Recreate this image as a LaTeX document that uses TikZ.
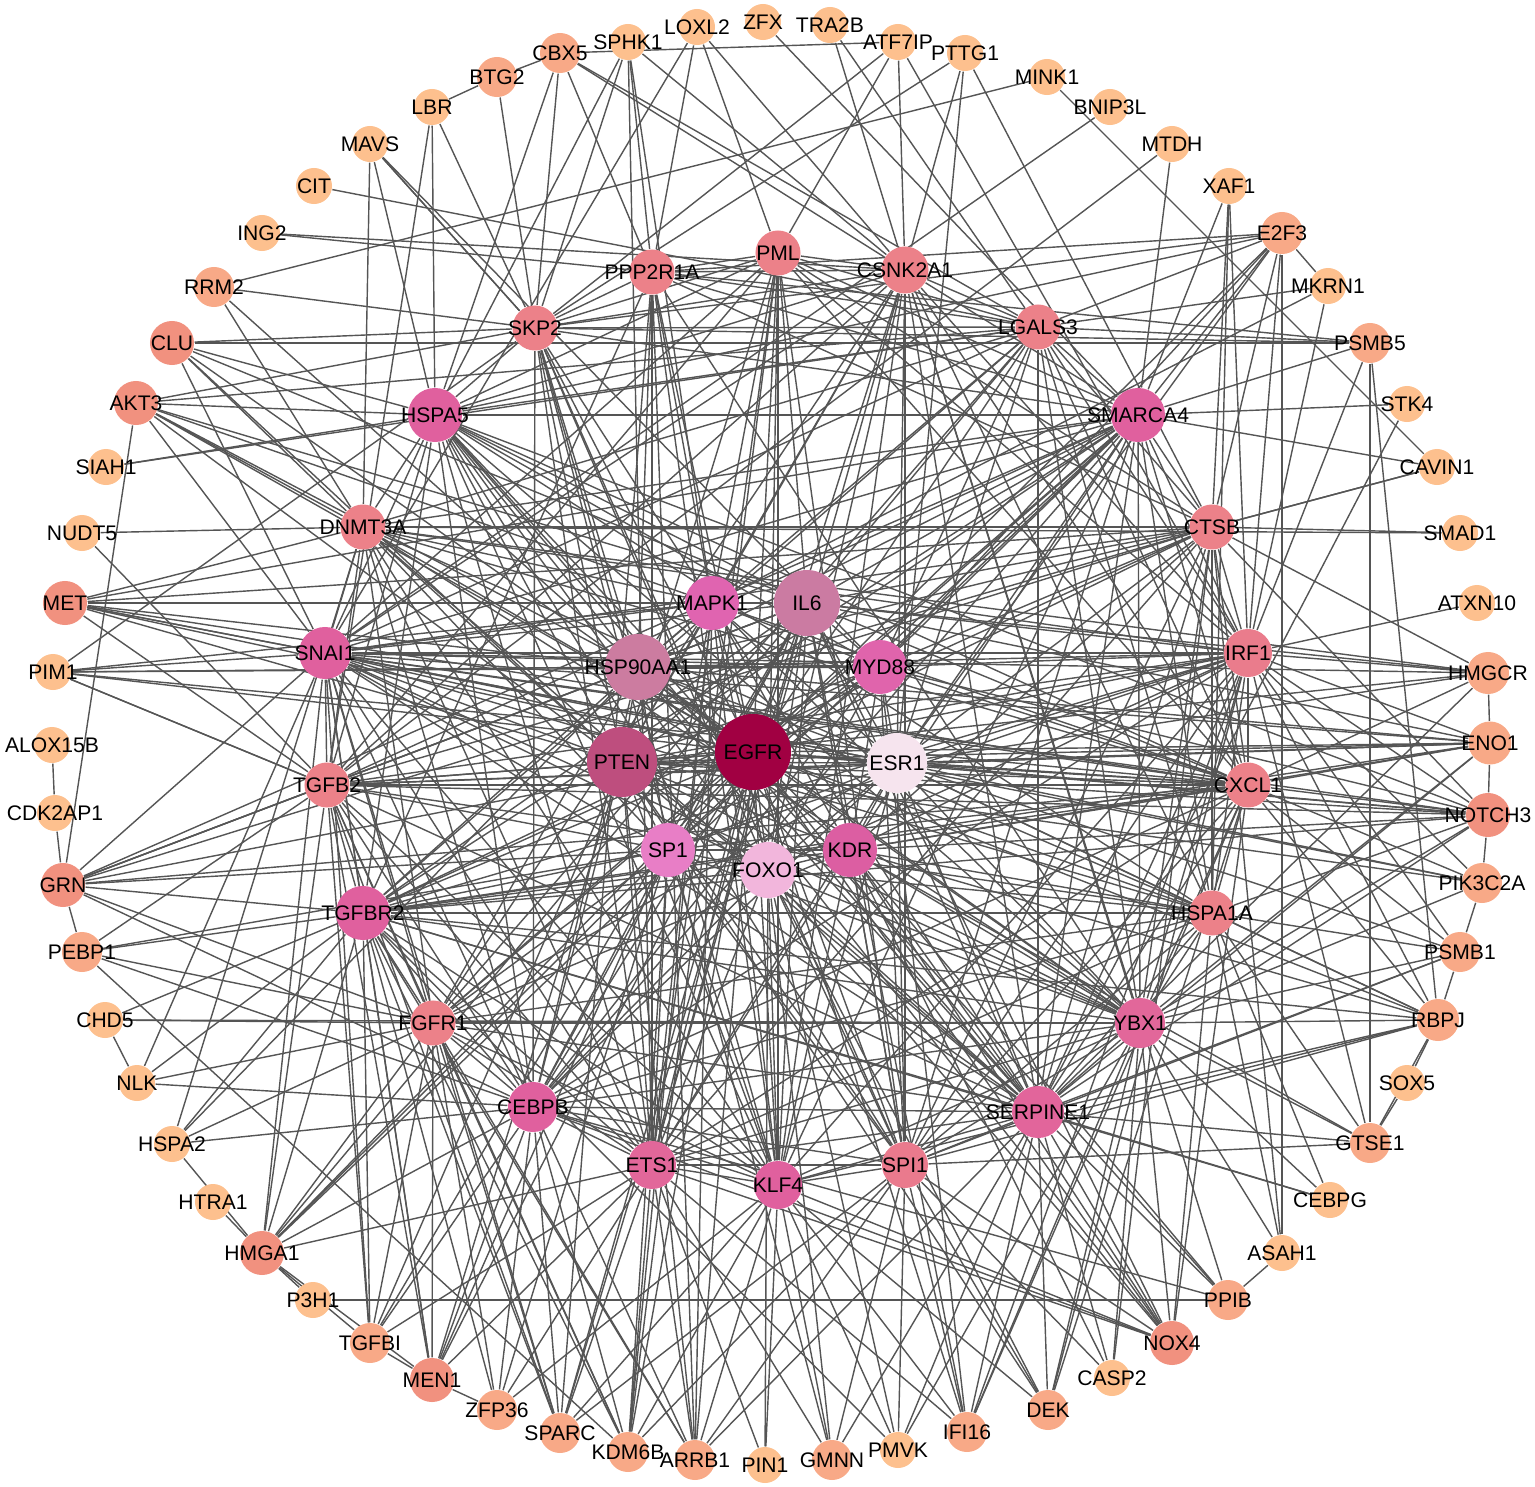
\documentclass[tikz,border=0pt]{standalone}
\usepackage{fontspec}
\setmainfont{Liberation Sans}
\usepackage{xcolor}
\usetikzlibrary{backgrounds}
\definecolor{tonepeach}{HTML}{FDC08E}
\definecolor{tonelight}{HTML}{F8A987}
\definecolor{tonesalmon}{HTML}{F1917F}
\definecolor{tonerose}{HTML}{EC8189}
\definecolor{tonepink}{HTML}{E0609E}
\definecolor{edgegray}{HTML}{555555}
\tikzset{
  gene/.style={
    circle,
    inner sep=0pt,
    text=black,
    font=\fontsize{6}{7}\selectfont,
    execute at begin node={\hbox to 0pt\bgroup\hss},
    execute at end node={\hss\egroup}
  },
  low/.style={gene, fill=tonepeach, minimum size=0.36cm},
  lowmid/.style={gene, fill=tonelight, minimum size=0.40cm},
  mid/.style={gene, fill=tonesalmon, minimum size=0.44cm},
  ring/.style={gene, fill=tonerose, minimum size=0.45cm},
  hub/.style={gene, fill=tonepink, minimum size=0.52cm},
  link/.style={draw=edgegray, line width=0.4pt}
}
\begin{document}
\begin{tikzpicture}[x=0.01cm, y=-0.01cm]
  \useasboundingbox (0,0) rectangle (1535,1487);

  \node[lowmid] (BTG2) at (497,77) {BTG2};
  \node[low] (LBR) at (432,107) {LBR};
  \node[low] (MAVS) at (370,144) {MAVS};
  \node[low] (CIT) at (314,186) {CIT};
  \node[low] (ING2) at (262,233) {ING2};
  \node[lowmid] (RRM2) at (214,287) {RRM2};
  \node[mid] (CLU) at (172,343) {CLU};
  \node[mid] (AKT3) at (136,403) {AKT3};
  \node[low] (SIAH1) at (106,467) {SIAH1};
  \node[low] (NUDT5) at (82,533) {NUDT5};
  \node[mid] (MET) at (65,603) {MET};
  \node[low] (PIM1) at (53,672) {PIM1};
  \node[low] (ALOX15B) at (52,745) {ALOX15B};
  \node[low] (CDK2AP1) at (55,813) {CDK2AP1};
  \node[mid] (GRN) at (63,885) {GRN};
  \node[lowmid] (PEBP1) at (82,952) {PEBP1};
  \node[low] (CHD5) at (105,1020) {CHD5};
  \node[low] (NLK) at (137,1083) {NLK};
  \node[low] (HSPA2) at (172,1144) {HSPA2};
  \node[low] (HTRA1) at (213,1202) {HTRA1};
  \node[mid] (HMGA1) at (262,1253) {HMGA1};
  \node[low] (P3H1) at (313,1300) {P3H1};
  \node[lowmid] (TGFBI) at (370,1343) {TGFBI};
  \node[mid] (MEN1) at (432,1380) {MEN1};
  \node[lowmid] (ZFP36) at (497,1410) {ZFP36};
  \node[lowmid] (SPARC) at (560,1433) {SPARC};
  \node[lowmid] (KDM6B) at (628,1452) {KDM6B};
  \node[lowmid] (ARRB1) at (695,1460) {ARRB1};
  \node[low] (PIN1) at (765,1465) {PIN1};
  \node[lowmid] (GMNN) at (832,1460) {GMNN};
  \node[low] (PMVK) at (898,1450) {PMVK};
  \node[lowmid] (IFI16) at (967,1432) {IFI16};
  \node[lowmid] (DEK) at (1048,1410) {DEK};
  \node[low] (CASP2) at (1112,1378) {CASP2};
  \node[mid] (NOX4) at (1172,1343) {NOX4};
  \node[lowmid] (PPIB) at (1228,1300) {PPIB};
  \node[low] (ASAH1) at (1282,1253) {ASAH1};
  \node[low] (CEBPG) at (1330,1200) {CEBPG};
  \node[lowmid] (GTSE1) at (1370,1143) {GTSE1};
  \node[low] (SOX5) at (1407,1083) {SOX5};
  \node[lowmid, minimum size=0.42cm] (RBPJ) at (1438,1020) {RBPJ};
  \node[lowmid] (PSMB1) at (1460,952) {PSMB1};
  \node[lowmid] (PIK3C2A) at (1482,883) {PIK3C2A};
  \node[mid] (NOTCH3) at (1488,815) {NOTCH3};
  \node[lowmid, minimum size=0.43cm] (ENO1) at (1490,743) {ENO1};
  \node[lowmid, minimum size=0.42cm] (HMGCR) at (1488,673) {HMGCR};
  \node[low] (ATXN10) at (1477,603) {ATXN10};
  \node[low] (SMAD1) at (1460,533) {SMAD1};
  \node[low] (CAVIN1) at (1437,467) {CAVIN1};
  \node[low] (STK4) at (1407,404) {STK4};
  \node[lowmid] (PSMB5) at (1370,343) {PSMB5};
  \node[low] (MKRN1) at (1328,286) {MKRN1};
  \node[lowmid, minimum size=0.42cm] (E2F3) at (1282,233) {E2F3};
  \node[low] (XAF1) at (1229,186) {XAF1};
  \node[low] (MTDH) at (1172,144) {MTDH};
  \node[low] (BNIP3L) at (1110,107) {BNIP3L};
  \node[low] (MINK1) at (1047,77) {MINK1};
  \node[low] (PTTG1) at (965,53) {PTTG1};
  \node[low] (ATF7IP) at (898,42) {ATF7IP};
  \node[low] (TRA2B) at (830,25) {TRA2B};
  \node[low] (ZFX) at (763,22) {ZFX};
  \node[low] (LOXL2) at (697,27) {LOXL2};
  \node[low] (SPHK1) at (628,42) {SPHK1};
  \node[lowmid] (CBX5) at (560,53) {CBX5};

  \node[ring] (PML) at (778,253) {PML};
  \node[ring, minimum size=0.47cm] (CSNK2A1) at (905,270) {CSNK2A1};
  \node[ring] (PPP2R1A) at (652,272) {PPP2R1A};
  \node[ring] (SKP2) at (535,328) {SKP2};
  \node[ring] (LGALS3) at (1038,327) {LGALS3};
  \node[hub, minimum size=0.54cm] (HSPA5) at (435,415) {HSPA5};
  \node[hub, minimum size=0.54cm] (SMARCA4) at (1138,415) {SMARCA4};
  \node[ring] (DNMT3A) at (363,527) {DNMT3A};
  \node[ring] (CTSB) at (1212,527) {CTSB};
  \node[hub] (SNAI1) at (325,653) {SNAI1};
  \node[ring, fill=tonerose!85!tonepink, minimum size=0.48cm] (IRF1) at (1248,653) {IRF1};
  \node[ring] (TGFB2) at (327,785) {TGFB2};
  \node[ring] (CXCL1) at (1248,785) {CXCL1};
  \node[hub, minimum size=0.54cm] (TGFBR2) at (363,913) {TGFBR2};
  \node[ring] (HSPA1A) at (1212,913) {HSPA1A};
  \node[ring] (FGFR1) at (433,1023) {FGFR1};
  \node[hub, fill=tonepink!80!tonerose, minimum size=0.50cm] (YBX1) at (1140,1023) {YBX1};
  \node[hub, minimum size=0.50cm] (CEBPB) at (533,1107) {CEBPB};
  \node[hub, fill=tonepink!85!tonerose] (SERPINE1) at (1038,1112) {SERPINE1};
  \node[hub, fill=tonepink!80!tonerose, minimum size=0.48cm] (ETS1) at (652,1165) {ETS1};
  \node[hub, minimum size=0.48cm] (KLF4) at (778,1185) {KLF4};
  \node[ring, fill=tonerose!80!tonepink, minimum size=0.46cm] (SPI1) at (905,1165) {SPI1};

  \node[gene, fill={rgb,255:red,224;green,100;blue,176}, minimum size=0.54cm] (MAPK1) at (712,603) {MAPK1};
  \node[gene, fill={rgb,255:red,203;green,123;blue,162}, minimum size=0.66cm] (IL6) at (807,603) {IL6};
  \node[gene, fill={rgb,255:red,204;green,124;blue,160}, minimum size=0.66cm] (HSP90AA1) at (638,667) {HSP90AA1};
  \node[gene, fill={rgb,255:red,224;green,100;blue,172}, minimum size=0.54cm] (MYD88) at (880,667) {MYD88};
  \node[gene, fill={rgb,255:red,190;green,78;blue,126}, minimum size=0.70cm] (PTEN) at (622,762) {PTEN};
  \node[gene, fill={rgb,255:red,161;green,0;blue,66}, minimum size=0.76cm] (EGFR) at (753,752) {EGFR};
  \node[gene, fill={rgb,255:red,246;green,228;blue,238}, minimum size=0.60cm] (ESR1) at (897,763) {ESR1};
  \node[gene, fill={rgb,255:red,232;green,126;blue,198}, minimum size=0.54cm] (SP1) at (668,850) {SP1};
  \node[gene, fill={rgb,255:red,242;green,182;blue,220}, minimum size=0.56cm] (FOXO1) at (768,870) {FOXO1};
  \node[gene, fill={rgb,255:red,220;green,94;blue,162}, minimum size=0.54cm] (KDR) at (850,850) {KDR};

  \begin{pgfonlayer}{background}
  \draw[link] (EGFR) edge (PTEN) edge (HSP90AA1) edge (IL6) edge (MAPK1) edge (MYD88) edge (ESR1) edge (SP1) edge (FOXO1) edge (KDR)
    edge (SNAI1) edge (TGFBR2) edge (TGFB2) edge (MET) edge (AKT3) edge (CLU) edge (SKP2) edge (PML) edge (CSNK2A1) edge (LGALS3)
    edge (SMARCA4) edge (CTSB) edge (IRF1) edge (CXCL1) edge (HSPA1A) edge (YBX1) edge (SERPINE1) edge (SPI1) edge (KLF4) edge (ETS1)
    edge (CEBPB) edge (FGFR1) edge (DNMT3A) edge (HSPA5) edge (PPP2R1A) edge (E2F3) edge (NOTCH3) edge (ENO1) edge (GRN) edge (HMGA1)
    edge (NOX4) edge (PIM1) edge (RBPJ) edge (SPARC) edge (ARRB1) edge (KDM6B) edge (MEN1) edge (IFI16);
  \draw[link] (PTEN) edge (HSP90AA1) edge (IL6) edge (MAPK1) edge (SP1) edge (FOXO1) edge (KDR) edge (ESR1) edge (MYD88) edge (SNAI1)
    edge (SKP2) edge (PML) edge (CSNK2A1) edge (HSPA5) edge (SMARCA4) edge (DNMT3A) edge (TGFB2) edge (CXCL1) edge (IRF1) edge (YBX1)
    edge (ETS1) edge (KLF4) edge (CEBPB) edge (SERPINE1) edge (AKT3) edge (MET) edge (CLU) edge (NOTCH3) edge (HMGCR) edge (ENO1)
    edge (SPI1) edge (PIK3C2A) edge (MEN1) edge (ARRB1) edge (TGFBI) edge (DEK);
  \draw[link] (HSP90AA1) edge (IL6) edge (MAPK1) edge (MYD88) edge (ESR1) edge (KDR) edge (SP1) edge (HSPA5) edge (SMARCA4) edge (SKP2)
    edge (CSNK2A1) edge (PPP2R1A) edge (LGALS3) edge (CTSB) edge (IRF1) edge (TGFBR2) edge (YBX1) edge (HSPA1A) edge (PIM1) edge (MET)
    edge (AKT3) edge (RRM2) edge (ENO1) edge (HSPA2) edge (NOX4) edge (CEBPB) edge (SERPINE1) edge (FGFR1) edge (GRN);
  \draw[link] (IL6) edge (MAPK1) edge (MYD88) edge (ESR1) edge (SP1) edge (FOXO1) edge (KDR) edge (SNAI1) edge (TGFB2) edge (TGFBR2)
    edge (CXCL1) edge (IRF1) edge (SERPINE1) edge (CEBPB) edge (ETS1) edge (KLF4) edge (SPI1) edge (HSPA5) edge (PML) edge (SMARCA4)
    edge (CTSB) edge (LGALS3) edge (MET) edge (CLU) edge (AKT3) edge (GRN) edge (NOX4) edge (SPARC) edge (IFI16) edge (HMGA1)
    edge (TGFBI) edge (HMGCR) edge (ENO1);
  \draw[link] (MAPK1) edge (MYD88) edge (ESR1) edge (SP1) edge (FOXO1) edge (KDR) edge (SNAI1) edge (SKP2) edge (PML) edge (PPP2R1A)
    edge (CSNK2A1) edge (ETS1) edge (KLF4) edge (SERPINE1) edge (YBX1) edge (DNMT3A) edge (CXCL1) edge (MET) edge (PIM1) edge (AKT3)
    edge (FGFR1) edge (ARRB1) edge (KDM6B) edge (MKRN1) edge (SPHK1);
  \draw[link] (MYD88) edge (ESR1) edge (KDR) edge (FOXO1) edge (SP1) edge (IRF1) edge (CXCL1) edge (SPI1) edge (CEBPB) edge (TGFBR2)
    edge (SNAI1) edge (HSPA5) edge (SMARCA4) edge (LGALS3) edge (CTSB) edge (PIM1) edge (NOTCH3) edge (IFI16) edge (MAVS) edge (E2F3);
  \draw[link] (ESR1) edge (SP1) edge (FOXO1) edge (KDR) edge (SMARCA4) edge (CTSB) edge (IRF1) edge (CXCL1) edge (HSPA1A) edge (YBX1)
    edge (SERPINE1) edge (KLF4) edge (SPI1) edge (ETS1) edge (CEBPB) edge (DNMT3A) edge (SNAI1) edge (TGFB2) edge (FGFR1) edge (MET)
    edge (HMGCR) edge (ENO1) edge (NOTCH3) edge (PIK3C2A) edge (PSMB1) edge (RBPJ) edge (E2F3) edge (PTTG1) edge (LGALS3) edge (CSNK2A1);
  \draw[link] (SP1) edge (FOXO1) edge (KDR) edge (KLF4) edge (ETS1) edge (CEBPB) edge (TGFBR2) edge (SNAI1) edge (TGFB2) edge (FGFR1)
    edge (SERPINE1) edge (YBX1) edge (DNMT3A) edge (SMARCA4) edge (IRF1) edge (SPI1) edge (CXCL1) edge (MEN1) edge (ZFP36) edge (GRN)
    edge (PEBP1) edge (HMGA1) edge (KDM6B);
  \draw[link] (FOXO1) edge (KDR) edge (KLF4) edge (SPI1) edge (ETS1) edge (CEBPB) edge (YBX1) edge (SERPINE1) edge (SKP2) edge (CSNK2A1)
    edge (PML) edge (TGFBR2) edge (SNAI1) edge (IRF1) edge (HSPA5) edge (HSPA1A) edge (PMVK) edge (GMNN) edge (DEK) edge (PIN1) edge (NOX4);
  \draw[link] (KDR) edge (SERPINE1) edge (YBX1) edge (SPI1) edge (KLF4) edge (ETS1) edge (CXCL1) edge (HSPA1A) edge (IRF1) edge (CTSB)
    edge (SMARCA4) edge (TGFBR2) edge (FGFR1) edge (NOTCH3) edge (ENO1) edge (RBPJ) edge (NOX4) edge (CASP2) edge (PPIB) edge (GTSE1);

  \draw[link] (SKP2) edge (PML) edge (PPP2R1A) edge (CSNK2A1) edge (LGALS3) edge (HSPA5) edge (SMARCA4) edge (E2F3) edge (RRM2)
    edge (CLU) edge (AKT3) edge (CBX5) edge (SPHK1) edge (BTG2) edge (LBR) edge (MAVS) edge (PSMB5) edge (PIM1) edge (CEBPB)
    edge (KLF4) edge (ETS1) edge (SPI1) edge (PTTG1) edge (GMNN);
  \draw[link] (PML) edge (PPP2R1A) edge (CSNK2A1) edge (LGALS3) edge (SMARCA4) edge (ATF7IP) edge (IRF1) edge (CTSB) edge (SPI1)
    edge (KLF4) edge (ETS1) edge (CXCL1) edge (TGFB2) edge (SNAI1) edge (HSPA5) edge (KDM6B) edge (LOXL2);
  \draw[link] (PPP2R1A) edge (CSNK2A1) edge (LGALS3) edge (SPHK1) edge (CBX5) edge (LOXL2) edge (SMARCA4) edge (E2F3) edge (KLF4)
    edge (ETS1) edge (ARRB1) edge (SPARC) edge (YBX1) edge (CTSB) edge (PSMB5) edge (TGFBR2) edge (ING2);
  \draw[link] (CSNK2A1) edge (LGALS3) edge (SMARCA4) edge (HSPA5) edge (TRA2B) edge (ATF7IP) edge (PTTG1) edge (LOXL2) edge (SPHK1)
    edge (CBX5) edge (IRF1) edge (CXCL1) edge (ETS1) edge (KLF4) edge (SERPINE1) edge (YBX1) edge (SPI1) edge (TGFB2) edge (SNAI1)
    edge (HSPA1A) edge (ING2) edge (PPIB);
  \draw[link] (LGALS3) edge (SMARCA4) edge (E2F3) edge (MKRN1) edge (PSMB5) edge (CBX5) edge (HSPA5) edge (CTSB) edge (IRF1)
    edge (CXCL1) edge (HSPA1A) edge (SERPINE1) edge (YBX1) edge (FGFR1) edge (TGFBR2) edge (SNAI1) edge (DNMT3A) edge (AKT3)
    edge (CIT) edge (TRA2B) edge (SIAH1);
  \draw[link] (HSPA5) edge (SMARCA4) edge (DNMT3A) edge (SNAI1) edge (TGFB2) edge (TGFBR2) edge (CEBPB) edge (ETS1) edge (KLF4)
    edge (LBR) edge (MAVS) edge (CBX5) edge (AKT3) edge (CLU) edge (SIAH1) edge (HSPA1A) edge (CXCL1) edge (SPI1) edge (SERPINE1)
    edge (YBX1) edge (E2F3) edge (NOTCH3) edge (SPHK1) edge (PPIB);
  \draw[link] (SMARCA4) edge (CTSB) edge (IRF1) edge (CXCL1) edge (HSPA1A) edge (YBX1) edge (SERPINE1) edge (E2F3) edge (XAF1)
    edge (MTDH) edge (PSMB5) edge (STK4) edge (CAVIN1) edge (SNAI1) edge (DNMT3A) edge (TGFB2) edge (TGFBR2) edge (CEBPB)
    edge (FGFR1) edge (SPI1) edge (KLF4) edge (MET) edge (GRN) edge (HMGA1) edge (ZFX);
  \draw[link] (DNMT3A) edge (SNAI1) edge (TGFB2) edge (MET) edge (NUDT5) edge (CLU) edge (AKT3) edge (RRM2) edge (MAVS) edge (CTSB)
    edge (IRF1) edge (CXCL1) edge (CEBPB) edge (ETS1) edge (KLF4) edge (FGFR1) edge (SERPINE1) edge (YBX1) edge (HMGCR)
    edge (SMAD1) edge (HSPA2);
  \draw[link] (CTSB) edge (IRF1) edge (CXCL1) edge (HSPA1A) edge (SMAD1) edge (E2F3) edge (XAF1) edge (CAVIN1) edge (SERPINE1)
    edge (YBX1) edge (SNAI1) edge (TGFB2) edge (TGFBR2) edge (ETS1) edge (SPI1) edge (GRN) edge (MET) edge (NOTCH3) edge (HMGCR)
    edge (PTTG1) edge (ASAH1) edge (CASP2);
  \draw[link] (SNAI1) edge (TGFB2) edge (TGFBR2) edge (FGFR1) edge (CEBPB) edge (ETS1) edge (KLF4) edge (YBX1) edge (SERPINE1)
    edge (MET) edge (PIM1) edge (AKT3) edge (CLU) edge (GRN) edge (IRF1) edge (CXCL1) edge (NOTCH3) edge (HMGCR) edge (ENO1)
    edge (HSPA1A) edge (HMGA1) edge (TGFBI) edge (MEN1) edge (SPARC) edge (BNIP3L) edge (LOXL2) edge (NLK) edge (PIK3C2A);
  \draw[link] (IRF1) edge (CXCL1) edge (HSPA1A) edge (SPI1) edge (SERPINE1) edge (YBX1) edge (HMGCR) edge (ENO1) edge (NOTCH3)
    edge (PIK3C2A) edge (ATXN10) edge (E2F3) edge (XAF1) edge (TGFBR2) edge (TGFB2) edge (CEBPB) edge (KLF4) edge (PSMB1)
    edge (PSMB5) edge (MKRN1) edge (RBPJ) edge (IFI16) edge (GTSE1) edge (ATF7IP) edge (DEK);
  \draw[link] (TGFB2) edge (TGFBR2) edge (FGFR1) edge (CEBPB) edge (ETS1) edge (KLF4) edge (SERPINE1) edge (CXCL1) edge (HSPA1A)
    edge (MET) edge (PIM1) edge (GRN) edge (PEBP1) edge (HMGA1) edge (TGFBI) edge (MEN1) edge (SPARC) edge (KDM6B) edge (NOTCH3)
    edge (ENO1) edge (LBR) edge (NUDT5) edge (MTDH);
  \draw[link] (CXCL1) edge (HSPA1A) edge (YBX1) edge (SERPINE1) edge (SPI1) edge (NOTCH3) edge (ENO1) edge (HMGCR) edge (PIK3C2A)
    edge (PSMB1) edge (RBPJ) edge (TGFBR2) edge (CEBPB) edge (ETS1) edge (GRN) edge (PIM1) edge (MET) edge (NOX4) edge (IFI16) edge (DEK);
  \draw[link] (TGFBR2) edge (FGFR1) edge (CEBPB) edge (ETS1) edge (KLF4) edge (SERPINE1) edge (YBX1) edge (HSPA1A) edge (GRN)
    edge (PEBP1) edge (CHD5) edge (NLK) edge (HSPA2) edge (HMGA1) edge (TGFBI) edge (MEN1) edge (ZFP36) edge (SPARC) edge (KDM6B)
    edge (NOTCH3) edge (ENO1) edge (RBPJ) edge (ARRB1) edge (CEBPG) edge (PMVK);
  \draw[link] (HSPA1A) edge (YBX1) edge (SERPINE1) edge (SPI1) edge (NOTCH3) edge (PSMB1) edge (RBPJ) edge (GTSE1) edge (CEBPG)
    edge (FGFR1) edge (CEBPB) edge (ETS1) edge (NOX4) edge (ASAH1) edge (XAF1);
  \draw[link] (FGFR1) edge (CEBPB) edge (ETS1) edge (KLF4) edge (SERPINE1) edge (YBX1) edge (HMGA1) edge (TGFBI) edge (MEN1)
    edge (ZFP36) edge (SPARC) edge (KDM6B) edge (GRN) edge (PEBP1) edge (NLK) edge (HSPA2) edge (CHD5) edge (ARRB1);
  \draw[link] (YBX1) edge (SERPINE1) edge (SPI1) edge (KLF4) edge (ETS1) edge (CEBPB) edge (NOX4) edge (DEK) edge (CASP2)
    edge (CEBPG) edge (GTSE1) edge (RBPJ) edge (PSMB1) edge (PIK3C2A) edge (NOTCH3) edge (ENO1) edge (ASAH1) edge (PMVK)
    edge (IFI16) edge (CHD5);
  \draw[link] (CEBPB) edge (ETS1) edge (KLF4) edge (SPI1) edge (SERPINE1) edge (HMGA1) edge (TGFBI) edge (MEN1) edge (ZFP36)
    edge (SPARC) edge (KDM6B) edge (ARRB1) edge (HSPA2) edge (NLK) edge (GRN) edge (PEBP1) edge (NOX4) edge (PPIB);
  \draw[link] (SERPINE1) edge (SPI1) edge (KLF4) edge (ETS1) edge (NOX4) edge (DEK) edge (IFI16) edge (PMVK) edge (CASP2)
    edge (PPIB) edge (CEBPG) edge (RBPJ) edge (GTSE1) edge (PSMB1) edge (NOTCH3) edge (ENO1) edge (HMGCR) edge (ARRB1)
    edge (GMNN) edge (STK4);
  \draw[link] (ETS1) edge (KLF4) edge (SPI1) edge (ARRB1) edge (KDM6B) edge (SPARC) edge (ZFP36) edge (MEN1) edge (NOX4)
    edge (IFI16) edge (GMNN) edge (PIN1) edge (HMGA1) edge (TGFBI);
  \draw[link] (KLF4) edge (SPI1) edge (PIN1) edge (GMNN) edge (PMVK) edge (ARRB1) edge (KDM6B) edge (IFI16) edge (NOX4) edge (DEK)
    edge (ZFP36) edge (SPARC) edge (RBPJ);
  \draw[link] (SPI1) edge (NOX4) edge (IFI16) edge (DEK) edge (PMVK) edge (GMNN) edge (ARRB1) edge (KDM6B) edge (SPARC)
    edge (CASP2) edge (RBPJ) edge (PSMB1) edge (GTSE1);

  \draw[link] (BTG2) edge (LBR) edge (CBX5);
  \draw[link] (CBX5) edge (ATF7IP);
  \draw[link] (SPHK1) edge (ETS1);
  \draw[link] (ATF7IP) edge (SKP2);
  \draw[link] (MINK1) edge (RRM2) edge (CAVIN1);
  \draw[link] (MKRN1) edge (E2F3);
  \draw[link] (PSMB5) edge (CLU) edge (GTSE1) edge (RBPJ);
  \draw[link] (CAVIN1) edge (CTSB);
  \draw[link] (HMGCR) edge (ENO1);
  \draw[link] (ENO1) edge (NOTCH3);
  \draw[link] (NOTCH3) edge (PIK3C2A);
  \draw[link] (PIK3C2A) edge (PSMB1);
  \draw[link] (PSMB1) edge (RBPJ);
  \draw[link] (RBPJ) edge (SOX5) edge (GTSE1);
  \draw[link] (SOX5) edge (GTSE1);
  \draw[link] (ASAH1) edge (PPIB) edge (E2F3);
  \draw[link] (PPIB) edge (P3H1);
  \draw[link] (MEN1) edge (ZFP36) edge (TGFBI) edge (HMGA1);
  \draw[link] (HMGA1) edge (HTRA1) edge (HSPA2) edge (TGFBI) edge (P3H1);
  \draw[link] (NLK) edge (CHD5);
  \draw[link] (GRN) edge (PEBP1) edge (CDK2AP1) edge (AKT3);
  \draw[link] (CDK2AP1) edge (ALOX15B);
  \draw[link] (PEBP1) edge (KDM6B);
  \draw[link] (PIM1) edge (TGFB2);
  \draw[link] (MAVS) edge (SKP2);
  \end{pgfonlayer}
\end{tikzpicture}
\end{document}
